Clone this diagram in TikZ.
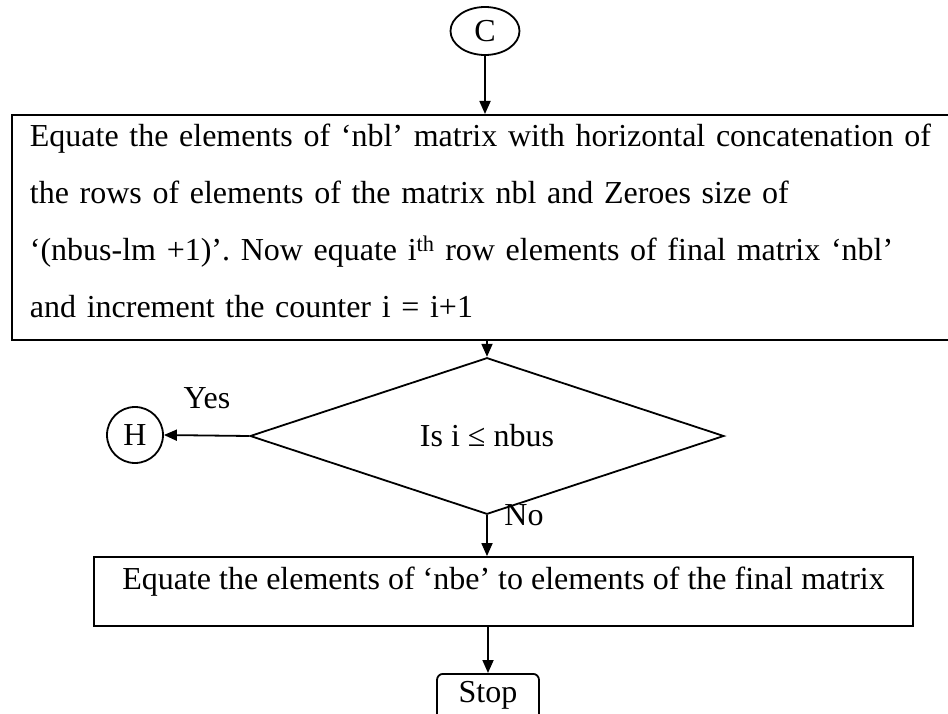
\documentclass[tikz,border=0pt]{standalone}
\usepackage{fontspec}
\setmainfont{Liberation Serif}
\usetikzlibrary{shapes.geometric,arrows.meta}

\begin{document}
\frenchspacing
\begin{tikzpicture}[x=1pt,y=-1pt,line width=1.8pt,
  font=\fontsize{32}{57}\selectfont,
  arr/.style={-{Triangle[length=13pt,width=11pt]}},
  conn/.style={draw,ellipse,inner sep=0pt},
  procbox/.style={draw,rectangle,inner sep=0pt}]
\useasboundingbox (0,0) rectangle (948,714);

\node[conn,minimum width=69pt,minimum height=48pt] (C) at (485,31) {C};

\node[procbox,minimum width=941pt,minimum height=225pt,anchor=north west] (upd) at (11,114) {};
\node[anchor=north west,inner sep=0pt,text width=912pt,align=left] (updtext) at (29,123) {
Equate the elements of ‘nbl’ matrix with horizontal concatenation of\\
the rows of elements of the matrix nbl and Zeroes size of\\
‘(nbus-lm +1)’. Now equate i\textsuperscript{th} row elements of final matrix ‘nbl’\\
and increment the counter i = i+1};

\node[draw,diamond,inner sep=0pt,minimum width=474pt,minimum height=112pt] (dec) at (487,436) {Is i ≤ nbus};
\node[conn,minimum size=56pt] (H) at (135,435) {H};
\node (yes) at (207,398) {Yes};
\node (no) at (524,515) {No};

\node[procbox,inner xsep=4pt,inner ysep=4pt,text height=28pt,text depth=33pt,minimum width=819pt,anchor=base] (nbe) at (503.5,589) {Equate the elements of ‘nbe’ to elements of the final matrix};

\node[procbox,rounded corners=6pt,minimum width=102pt,minimum height=62pt,anchor=north] (stop) at (488,673) {};
\node[anchor=base] (stoptext) at (488,702) {Stop};

\draw[arr] (C.south) -- (C.south |- upd.north);
\draw[arr] (dec.north |- upd.south) -- (dec.north);
\draw[arr] (dec.west) -- (H.east);
\draw[arr] (dec.south) -- (dec.south |- nbe.north);
\draw[arr] (stop.north |- nbe.south) -- (stop.north);
\end{tikzpicture}
\end{document}
